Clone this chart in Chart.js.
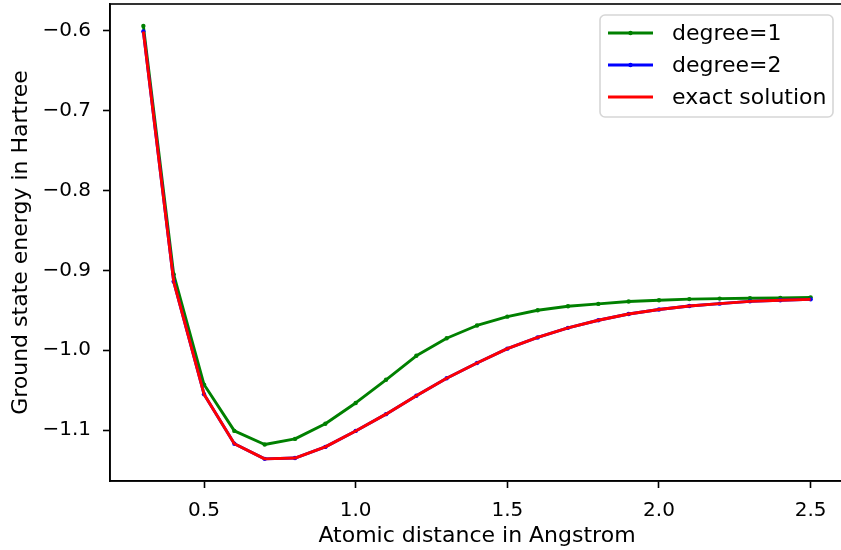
<!DOCTYPE html>
<html>
<head>
<meta charset="utf-8">
<script src="https://cdn.jsdelivr.net/npm/chart.js@4.4.1/dist/chart.umd.min.js"></script>
<style>
  html, body { margin: 0; padding: 0; background: #fff; overflow: hidden; }
  #wrap { width: 848px; height: 550px; position: relative; }
</style>
</head>
<body>
<div id="wrap"><canvas id="c" width="848" height="550"></canvas></div>
<script>
// ---- data ----
const distances = [0.3, 0.4, 0.5, 0.6, 0.7, 0.8, 0.9, 1.0, 1.1, 1.2, 1.3, 1.4, 1.5, 1.6, 1.7, 1.8, 1.9, 2.0, 2.1, 2.2, 2.3, 2.4, 2.5];
const degree1 = [-0.594, -0.905, -1.043, -1.101, -1.118, -1.111, -1.092, -1.066, -1.037, -1.007, -0.985, -0.969, -0.958, -0.950, -0.945, -0.942, -0.939, -0.9375, -0.936, -0.9354, -0.935, -0.9346, -0.934];
const degree2 = [-0.601, -0.914, -1.055, -1.117, -1.136, -1.135, -1.121, -1.101, -1.080, -1.057, -1.035, -1.016, -0.998, -0.984, -0.972, -0.9625, -0.9546, -0.949, -0.9446, -0.9417, -0.9388, -0.9375, -0.9363];
const exactSolution = [-0.601, -0.914, -1.055, -1.117, -1.136, -1.135, -1.121, -1.101, -1.080, -1.057, -1.035, -1.016, -0.998, -0.984, -0.972, -0.9625, -0.9546, -0.949, -0.9446, -0.9417, -0.9388, -0.9375, -0.9363];
const xTicks = [0.5, 1.0, 1.5, 2.0, 2.5];
const yTicks = [-1.1, -1.0, -0.9, -0.8, -0.7, -0.6];
const seriesNames = ['degree=1', 'degree=2', 'exact solution'];
const xTitle = 'Atomic distance in Angstrom';
const yTitle = 'Ground state energy in Hartree';

const FONT = 'DejaVu Sans';
const FS = 20;   // tick labels
const FT = 22;   // axis titles and legend

function pts(ys) { return distances.map((x, i) => ({ x: x, y: ys[i] })); }
function fmt(v) {
  const s = Math.abs(v).toFixed(1);
  return (v < 0 ? '\u2212' : '') + s;
}

const framePlugin = {
  id: 'frame',
  afterDatasetsDraw(chart) {
    const a = chart.chartArea, ctx = chart.ctx;
    ctx.save();
    ctx.strokeStyle = '#000';
    ctx.lineWidth = 1.6;
    ctx.strokeRect(a.left, a.top, a.right - a.left, a.bottom - a.top);
    ctx.restore();
  }
};

const legendPlugin = {
  id: 'mplLegend',
  afterDraw(chart) {
    const ctx = chart.ctx;
    const bx = 600, by = 15, bw = 233, bh = 102, r = 5;
    ctx.save();
    ctx.beginPath();
    ctx.moveTo(bx + r, by);
    ctx.arcTo(bx + bw, by, bx + bw, by + bh, r);
    ctx.arcTo(bx + bw, by + bh, bx, by + bh, r);
    ctx.arcTo(bx, by + bh, bx, by, r);
    ctx.arcTo(bx, by, bx + bw, by, r);
    ctx.closePath();
    ctx.fillStyle = 'rgba(255,255,255,0.8)';
    ctx.fill();
    ctx.strokeStyle = '#d6d6d6';
    ctx.lineWidth = 1.6;
    ctx.stroke();
    chart.data.datasets.forEach((ds, i) => {
      const y = 33 + i * 32;
      ctx.strokeStyle = ds.borderColor;
      ctx.lineWidth = ds.borderWidth;
      ctx.beginPath();
      ctx.moveTo(608, y);
      ctx.lineTo(653, y);
      ctx.stroke();
      if (ds.pointRadius > 0) {
        ctx.fillStyle = ds.borderColor;
        ctx.beginPath();
        ctx.arc(630.5, y, ds.pointRadius, 0, Math.PI * 2);
        ctx.fill();
      }
      ctx.fillStyle = '#000';
      ctx.font = FT + 'px "' + FONT + '"';
      ctx.textBaseline = 'middle';
      ctx.textAlign = 'left';
      ctx.fillText(ds.label, 672, y + 1);
    });
    ctx.restore();
  }
};

new Chart(document.getElementById('c'), {
  type: 'line',
  data: {
    datasets: [
      { label: seriesNames[0], data: pts(degree1), borderColor: '#008000', backgroundColor: '#008000',
        borderWidth: 2.9, pointRadius: 2.2, pointBorderWidth: 0, pointBackgroundColor: '#008000', tension: 0, order: 3 },
      { label: seriesNames[1], data: pts(degree2), borderColor: '#0000ff', backgroundColor: '#0000ff',
        borderWidth: 2.9, pointRadius: 2.2, pointBorderWidth: 0, pointBackgroundColor: '#0000ff', tension: 0, order: 2 },
      { label: seriesNames[2], data: pts(exactSolution), borderColor: '#ff0000', backgroundColor: '#ff0000',
        borderWidth: 2.9, pointRadius: 0, tension: 0, order: 1 }
    ]
  },
  options: {
    responsive: false,
    animation: false,
    devicePixelRatio: 1,
    layout: { padding: { top: 3, right: 2, left: 0, bottom: 0 } },
    plugins: { legend: { display: false }, tooltip: { enabled: false } },
    elements: { line: { borderCapStyle: 'butt', borderJoinStyle: 'round' } },
    scales: {
      x: {
        type: 'linear',
        min: 0.19, max: 2.61,
        afterBuildTicks(s) { s.ticks = xTicks.map(v => ({ value: v })); },
        afterFit(s) { s.height = 69; s.paddingLeft = 0; s.paddingRight = 0; },
        grid: { display: true, drawOnChartArea: false, drawTicks: true, tickLength: 7, tickWidth: 1.6, tickColor: '#000' },
        border: { display: true, color: '#000', width: 1.6 },
        ticks: { color: '#000', font: { family: FONT, size: FS }, padding: 11, maxRotation: 0, autoSkip: false,
                 callback: v => fmt(v) },
        title: { display: true, text: xTitle, color: '#000', font: { family: FONT, size: FT }, padding: { top: 0, bottom: 1 } }
      },
      y: {
        type: 'linear',
        min: -1.1637, max: -0.5666,
        afterBuildTicks(s) { s.ticks = yTicks.map(v => ({ value: v })); },
        afterFit(s) { s.width = 110; s.paddingTop = 0; s.paddingBottom = 0; },
        grid: { display: true, drawOnChartArea: false, drawTicks: true, tickLength: 7, tickWidth: 1.6, tickColor: '#000' },
        border: { display: true, color: '#000', width: 1.6 },
        ticks: { color: '#000', font: { family: FONT, size: FS }, padding: 12, autoSkip: false,
                 callback: v => fmt(v) },
        title: { display: true, text: yTitle, color: '#000', font: { family: FONT, size: FT }, padding: { top: 8, bottom: 0 } }
      }
    }
  },
  plugins: [framePlugin, legendPlugin]
});
</script>
</body>
</html>
